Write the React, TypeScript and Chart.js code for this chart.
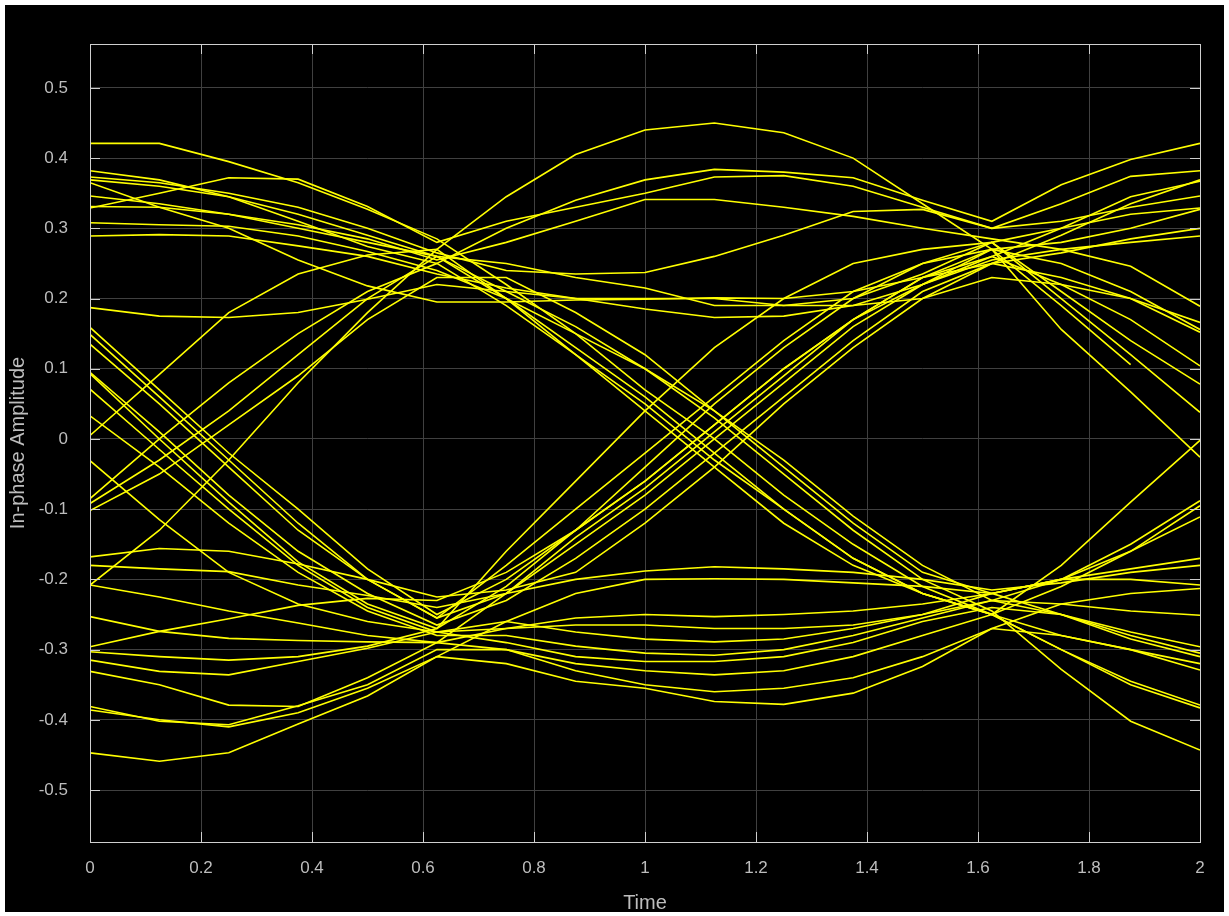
import React, { useEffect, useRef } from "react";
import { Chart, registerables } from "chart.js";

Chart.register(...registerables);

// Sample instants (8 samples per symbol, two symbols per trace)
const timeAxis = [0, 0.125, 0.25, 0.375, 0.5, 0.625, 0.75, 0.875, 1, 1.125, 1.25, 1.375, 1.5, 1.625, 1.75, 1.875, 2];

const xTicks = [0, 0.2, 0.4, 0.6, 0.8, 1, 1.2, 1.4, 1.6, 1.8, 2];
const yTicks = [-0.5, -0.4, -0.3, -0.2, -0.1, 0, 0.1, 0.2, 0.3, 0.4, 0.5];
const xTickLabels = ["0", "0.2", "0.4", "0.6", "0.8", "1", "1.2", "1.4", "1.6", "1.8", "2"];
const yTickLabels = ["-0.5", "-0.4", "-0.3", "-0.2", "-0.1", "0", "0.1", "0.2", "0.3", "0.4", "0.5"];

const xTitle = "Time";
const yTitle = "In-phase Amplitude";

// Traces (in-phase amplitude at each sample instant)
const trace01 = [0.421, 0.421, 0.395, 0.365, 0.327, 0.285, 0.22, 0.15, 0.07, 0.0, -0.08, -0.15, -0.21, -0.25, -0.18, -0.09, -0.002];
const trace02 = [0.382, 0.369, 0.345, 0.31, 0.274, 0.25, 0.30, 0.34, 0.369, 0.384, 0.38, 0.372, 0.34, 0.31, 0.362, 0.398, 0.421];
const trace03 = [0.373, 0.365, 0.35, 0.33, 0.30, 0.265, 0.24, 0.235, 0.237, 0.26, 0.29, 0.324, 0.327, 0.30, 0.31, 0.33, 0.346];
const trace04 = [0.369, 0.36, 0.345, 0.32, 0.29, 0.26, 0.21, 0.16, 0.1, 0.03, -0.05, -0.13, -0.2, -0.245, -0.328, -0.402, -0.443];
const trace05 = [0.365, 0.33, 0.30, 0.255, 0.218, 0.195, 0.195, 0.198, 0.199, 0.201, 0.2, 0.21, 0.23, 0.25, 0.29, 0.335, 0.369];
const trace06 = [0.346, 0.335, 0.32, 0.305, 0.285, 0.255, 0.28, 0.31, 0.341, 0.341, 0.33, 0.317, 0.30, 0.285, 0.27, 0.246, 0.189];
const trace07 = [0.331, 0.33, 0.32, 0.30, 0.28, 0.26, 0.25, 0.23, 0.215, 0.19, 0.19, 0.2, 0.235, 0.28, 0.30, 0.32, 0.329];
const trace08 = [0.329, 0.35, 0.372, 0.37, 0.331, 0.28, 0.31, 0.33, 0.35, 0.373, 0.375, 0.36, 0.33, 0.30, 0.335, 0.374, 0.382];
const trace09 = [0.308, 0.305, 0.303, 0.289, 0.267, 0.24, 0.2, 0.15, 0.1, 0.04, -0.03, -0.11, -0.18, -0.23, -0.2, -0.15, -0.088];
const trace10 = [0.289, 0.291, 0.289, 0.275, 0.26, 0.235, 0.215, 0.2, 0.185, 0.173, 0.175, 0.19, 0.22, 0.255, 0.27, 0.28, 0.289];
const trace11 = [0.187, 0.175, 0.173, 0.18, 0.199, 0.22, 0.21, 0.2, 0.2, 0.2, 0.19, 0.19, 0.2, 0.23, 0.22, 0.2, 0.166];
const trace12 = [0.005, 0.092, 0.18, 0.235, 0.262, 0.27, 0.2, 0.12, 0.04, -0.04, -0.12, -0.18, -0.22, -0.25, -0.3, -0.35, -0.383];
const trace13 = [-0.085, 0.0, 0.08, 0.15, 0.21, 0.25, 0.19, 0.12, 0.05, -0.03, -0.1, -0.17, -0.22, -0.25, -0.21, -0.16, -0.095];
const trace14 = [-0.092, -0.03, 0.04, 0.12, 0.2, 0.26, 0.2, 0.13, 0.06, -0.02, -0.1, -0.17, -0.22, -0.25, -0.3, -0.345, -0.379];
const trace15 = [-0.102, -0.05, 0.02, 0.09, 0.17, 0.23, 0.23, 0.18, 0.12, 0.04, -0.04, -0.12, -0.19, -0.22, -0.2, -0.16, -0.111];
const trace16 = [-0.208, -0.13, -0.03, 0.08, 0.18, 0.27, 0.345, 0.405, 0.44, 0.45, 0.436, 0.40, 0.335, 0.27, 0.156, 0.067, -0.026];
const trace17 = [0.159, 0.07, -0.02, -0.1, -0.185, -0.25, -0.2, -0.13, -0.06, 0.02, 0.1, 0.17, 0.23, 0.26, 0.30, 0.345, 0.367];
const trace18 = [0.149, 0.06, -0.03, -0.12, -0.2, -0.255, -0.22, -0.15, -0.08, 0.0, 0.08, 0.16, 0.22, 0.27, 0.25, 0.21, 0.156];
const trace19 = [0.135, 0.05, -0.04, -0.13, -0.2, -0.255, -0.18, -0.1, -0.02, 0.06, 0.14, 0.21, 0.25, 0.27, 0.28, 0.30, 0.327];
const trace20 = [0.095, 0.01, -0.08, -0.16, -0.22, -0.265, -0.23, -0.17, -0.1, -0.02, 0.06, 0.14, 0.21, 0.25, 0.23, 0.2, 0.152];
const trace21 = [0.093, 0.0, -0.09, -0.175, -0.235, -0.27, -0.16, -0.06, 0.04, 0.13, 0.2, 0.25, 0.27, 0.28, 0.2, 0.12, 0.038];
const trace22 = [0.071, -0.015, -0.1, -0.18, -0.24, -0.275, -0.26, -0.275, -0.285, -0.289, -0.285, -0.27, -0.25, -0.22, -0.25, -0.275, -0.296];
const trace23 = [0.033, -0.04, -0.12, -0.19, -0.245, -0.28, -0.28, -0.295, -0.305, -0.308, -0.3, -0.28, -0.255, -0.23, -0.25, -0.28, -0.305];
const trace24 = [-0.031, -0.115, -0.19, -0.235, -0.26, -0.275, -0.27, -0.265, -0.265, -0.27, -0.27, -0.265, -0.25, -0.23, -0.235, -0.245, -0.251];
const trace25 = [-0.168, -0.156, -0.16, -0.178, -0.2, -0.225, -0.215, -0.19, -0.12, -0.04, 0.05, 0.13, 0.2, 0.25, 0.265, 0.285, 0.30];
const trace26 = [-0.18, -0.185, -0.189, -0.208, -0.223, -0.24, -0.22, -0.2, -0.188, -0.182, -0.185, -0.19, -0.2, -0.215, -0.205, -0.19, -0.18];
const trace27 = [-0.208, -0.225, -0.245, -0.262, -0.28, -0.29, -0.27, -0.255, -0.25, -0.253, -0.25, -0.245, -0.235, -0.22, -0.2, -0.2, -0.208];
const trace28 = [-0.253, -0.274, -0.284, -0.287, -0.289, -0.29, -0.22, -0.14, -0.07, 0.01, 0.09, 0.17, 0.23, 0.27, 0.19, 0.106, null];
const trace29 = [-0.296, -0.274, -0.256, -0.237, -0.227, -0.23, -0.19, -0.13, -0.06, 0.02, 0.1, 0.17, 0.22, 0.26, 0.22, 0.17, 0.104];
const trace30 = [-0.303, -0.31, -0.315, -0.31, -0.295, -0.27, -0.21, -0.13, -0.04, 0.05, 0.13, 0.2, 0.25, 0.28, 0.21, 0.14, 0.078];
const trace31 = [-0.315, -0.331, -0.336, -0.317, -0.298, -0.275, -0.29, -0.31, -0.317, -0.317, -0.31, -0.29, -0.26, -0.24, -0.25, -0.285, -0.31];
const trace32 = [-0.331, -0.35, -0.379, -0.381, -0.34, -0.29, -0.30, -0.33, -0.35, -0.36, -0.355, -0.34, -0.31, -0.27, -0.28, -0.30, -0.329];
const trace33 = [-0.381, -0.402, -0.407, -0.38, -0.35, -0.30, -0.30, -0.32, -0.33, -0.336, -0.33, -0.31, -0.28, -0.25, -0.28, -0.30, -0.32];
const trace34 = [-0.386, -0.40, -0.41, -0.39, -0.355, -0.31, -0.26, -0.22, -0.2, -0.199, -0.2, -0.205, -0.21, -0.22, -0.2, -0.185, -0.17];
const trace35 = [-0.447, -0.459, -0.447, -0.406, -0.366, -0.31, -0.32, -0.345, -0.355, -0.374, -0.378, -0.362, -0.324, -0.27, -0.235, -0.22, -0.213];

const traces = [
  trace01, trace02, trace03, trace04, trace05, trace06, trace07, trace08, trace09, trace10,
  trace11, trace12, trace13, trace14, trace15, trace16, trace17, trace18, trace19, trace20,
  trace21, trace22, trace23, trace24, trace25, trace26, trace27, trace28, trace29, trace30,
  trace31, trace32, trace33, trace34, trace35,
];

const W = 1229;
const H = 916;
const FONT = "'Liberation Sans', Arial, Helvetica, sans-serif";
const TEXT_COLOR = "#bdbdbd";
const AXIS_COLOR = "#cfcfcf";
const GRID_COLOR = "#404040";
const TRACE_COLOR = "#ffff00";

const backgroundPlugin = {
  id: "bgFrame",
  beforeDraw(chart: any) {
    const ctx = chart.ctx;
    ctx.save();
    ctx.fillStyle = "#ffffff";
    ctx.fillRect(0, 0, chart.width, chart.height);
    ctx.fillStyle = "#000000";
    ctx.fillRect(5, 5, chart.width - 10, chart.height - 9);
    ctx.restore();
  },
};

const boxPlugin = {
  id: "axesBox",
  afterDraw(chart: any) {
    const { ctx, chartArea } = chart;
    const { left, right, top, bottom } = chartArea;
    const xs = chart.scales.x;
    const ys = chart.scales.y;
    const tick = 10;
    ctx.save();
    ctx.strokeStyle = AXIS_COLOR;
    ctx.lineWidth = 1;
    ctx.beginPath();
    xTicks.forEach((v) => {
      const px = Math.round(xs.getPixelForValue(v)) + 0.5;
      ctx.moveTo(px, bottom);
      ctx.lineTo(px, bottom - tick);
      ctx.moveTo(px, top);
      ctx.lineTo(px, top + tick);
    });
    yTicks.forEach((v) => {
      const py = Math.round(ys.getPixelForValue(v)) + 0.5;
      ctx.moveTo(left, py);
      ctx.lineTo(left + tick, py);
      ctx.moveTo(right, py);
      ctx.lineTo(right - tick, py);
    });
    ctx.stroke();
    ctx.strokeRect(Math.round(left) + 0.5, Math.round(top) + 0.5, Math.round(right - left), Math.round(bottom - top));
    ctx.restore();
  },
};

export default function App() {
  const canvasRef = useRef<HTMLCanvasElement | null>(null);

  useEffect(() => {
    document.body.style.margin = "0";
    const canvas = canvasRef.current;
    if (!canvas) return;

    const datasets = traces.map((tr, i) => ({
      label: `trace ${i + 1}`,
      data: tr.map((v, k) => ({ x: timeAxis[k], y: v })),
      borderColor: TRACE_COLOR,
      backgroundColor: TRACE_COLOR,
      borderWidth: 1.6,
      pointRadius: 0,
      tension: 0,
      fill: false,
      spanGaps: false,
    }));

    const chart = new Chart(canvas, {
      type: "line",
      data: { datasets },
      options: {
        animation: false,
        responsive: true,
        maintainAspectRatio: false,
        events: [],
        layout: { padding: { left: 0, top: 44, right: 29, bottom: 0 } },
        plugins: {
          legend: { display: false },
          tooltip: { enabled: false },
        },
        scales: {
          x: {
            type: "linear",
            min: 0,
            max: 2,
            afterBuildTicks: (s: any) => {
              s.ticks = xTicks.map((v) => ({ value: v }));
            },
            afterFit: (s: any) => {
              s.height = 74;
            },
            border: { display: false },
            grid: { color: GRID_COLOR, drawTicks: false, lineWidth: 1 },
            ticks: {
              color: TEXT_COLOR,
              font: { family: FONT, size: 17 },
              padding: 16,
              maxRotation: 0,
              autoSkip: false,
              callback: (v: any) => {
                const idx = xTicks.findIndex((t) => Math.abs(t - Number(v)) < 1e-9);
                return idx >= 0 ? xTickLabels[idx] : "";
              },
            },
            title: {
              display: true,
              text: xTitle,
              color: TEXT_COLOR,
              font: { family: FONT, size: 20 },
              padding: { top: 0, bottom: 1 },
            },
          },
          y: {
            type: "linear",
            min: -0.574,
            max: 0.5625,
            afterBuildTicks: (s: any) => {
              s.ticks = yTicks.map((v) => ({ value: v }));
            },
            afterFit: (s: any) => {
              s.width = 90;
            },
            border: { display: false },
            grid: { color: GRID_COLOR, drawTicks: false, lineWidth: 1 },
            ticks: {
              color: TEXT_COLOR,
              font: { family: FONT, size: 17 },
              padding: 22,
              autoSkip: false,
              callback: (v: any) => {
                const idx = yTicks.findIndex((t) => Math.abs(t - Number(v)) < 1e-9);
                return idx >= 0 ? yTickLabels[idx] : "";
              },
            },
            title: {
              display: true,
              text: yTitle,
              color: TEXT_COLOR,
              font: { family: FONT, size: 20 },
              padding: { top: 6, bottom: 0 },
            },
          },
        },
      },
      plugins: [backgroundPlugin, boxPlugin],
    } as any);

    return () => {
      chart.destroy();
    };
  }, []);

  return (
    <div style={{ position: "relative", width: W, height: H }}>
      <canvas ref={canvasRef} />
    </div>
  );
}
